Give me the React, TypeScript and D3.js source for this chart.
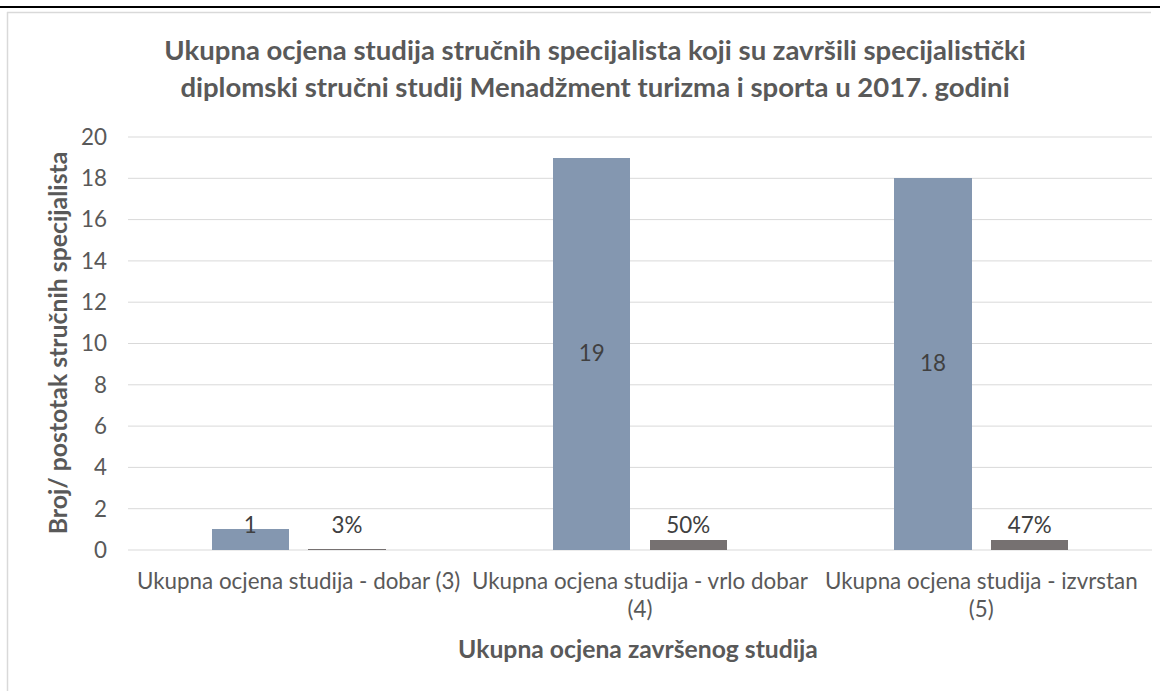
import React, { useMemo } from "react";
import * as d3 from "d3";

const title = [
  "Ukupna ocjena studija stručnih specijalista koji su završili specijalistički",
  "diplomski stručni studij Menadžment turizma i sporta u 2017. godini",
];
const categories = [
  "Ukupna ocjena studija - dobar (3)",
  "Ukupna ocjena studija - vrlo dobar\n(4)",
  "Ukupna ocjena studija - izvrstan\n(5)",
];
const seriesNames = ["Broj", "Postotak"];
const counts = [1, 19, 18];
const shares = [0.03, 0.5, 0.47];
const shareLabels = ["3%", "50%", "47%"];
const yTicks = [0, 2, 4, 6, 8, 10, 12, 14, 16, 18, 20];
const yTitle = "Broj/ postotak stručnih specijalista";
const xTitle = "Ukupna ocjena završenog studija";

const FAMILY = "Lato, 'Open Sans', sans-serif";
const colors = ["#8497B0", "#767171"];

let _ctx: CanvasRenderingContext2D | null = null;
function measure(text: string, weight: number, size: number) {
  if (!_ctx) _ctx = document.createElement("canvas").getContext("2d");
  _ctx!.font = `${weight} ${size}px ${FAMILY}`;
  return _ctx!.measureText(text).width;
}
function fit(text: string, weight: number, target: number) {
  return (100 * target) / measure(text, weight, 100);
}

export default function App() {
  const W = 1164;
  const H = 691;
  const plot = { left: 128, right: 1152, top: 137, bottom: 550 };

  const sizes = useMemo(() => {
    return {
      title: fit(title[0], 700, 862),
      yTitle: fit(yTitle, 700, 383),
      xTitle: fit(xTitle, 700, 360),
      axis: fit(categories[0], 400, 324),
    };
  }, []);

  const y = d3.scaleLinear().domain([0, 20]).range([plot.bottom, plot.top]);
  const x0 = d3.scaleBand<string>().domain(categories).range([plot.left, plot.right]).padding(0);
  const x1 = d3
    .scaleBand<string>()
    .domain(seriesNames)
    .range([0, x0.bandwidth()])
    .paddingInner(0.198)
    .paddingOuter(0.865);

  const seriesData = [
    counts.map((v, i) => ({ cat: categories[i], v, label: String(v) })),
    shares.map((v, i) => ({ cat: categories[i], v, label: shareLabels[i] })),
  ];

  return (
    <svg
      width={W}
      height={H}
      style={{ position: "absolute", left: 0, top: 0, background: "#fff" }}
      fontFamily={FAMILY}
    >
      <rect x={0} y={0} width={W} height={H} fill="#fff" />
      <line x1={0} x2={1160} y1={7} y2={7} stroke="#000" strokeWidth={2} />
      <line x1={7} x2={1151} y1={12.5} y2={12.5} stroke="#d9d9d9" strokeWidth={1.5} />
      <line x1={7.5} x2={7.5} y1={12} y2={H} stroke="#d9d9d9" strokeWidth={1.5} />

      {title.map((t, i) => (
        <text
          key={i}
          x={595}
          y={60 + i * 37}
          textAnchor="middle"
          fontWeight={700}
          fontSize={sizes.title}
          fill="#595959"
        >
          {t}
        </text>
      ))}

      {yTicks.map((t) => (
        <g key={t}>
          <line x1={plot.left} x2={plot.right} y1={y(t)} y2={y(t)} stroke="#d9d9d9" strokeWidth={1} />
          <text x={107} y={y(t)} dy="0.35em" textAnchor="end" fontSize={sizes.axis} fill="#595959">
            {t}
          </text>
        </g>
      ))}

      {seriesData.map((s, si) =>
        s.map((d) => {
          const bx = (x0(d.cat) as number) + (x1(seriesNames[si]) as number);
          const top = y(d.v);
          return (
            <rect
              key={si + d.cat}
              x={bx}
              y={top}
              width={x1.bandwidth()}
              height={y(0) - top}
              fill={colors[si]}
              shapeRendering="crispEdges"
            />
          );
        })
      )}

      {seriesData.map((s, si) =>
        s.map((d) => {
          const cx = (x0(d.cat) as number) + (x1(seriesNames[si]) as number) + x1.bandwidth() / 2;
          const top = y(d.v);
          const base =
            si === 0
              ? Math.min((top + y(0)) / 2 + 7, y(0) - 17)
              : Math.min(top - 7, y(0) - 17);
          return (
            <text key={"l" + si + d.cat} x={cx} y={base} textAnchor="middle" fontSize={sizes.axis} fill="#404040">
              {d.label}
            </text>
          );
        })
      )}

      {categories.map((c) => {
        const cx = (x0(c) as number) + x0.bandwidth() / 2;
        const lines = c.split("\n");
        return (
          <text key={c} textAnchor="middle" fontSize={sizes.axis} fill="#595959">
            {lines.map((l, i) => (
              <tspan key={i} x={cx} y={589 + i * 28}>
                {l}
              </tspan>
            ))}
          </text>
        );
      })}

      <text x={638} y={658} textAnchor="middle" fontWeight={700} fontSize={sizes.xTitle} fill="#595959">
        {xTitle}
      </text>
      <text
        transform={`translate(67,343) rotate(-90)`}
        textAnchor="middle"
        fontWeight={700}
        fontSize={sizes.yTitle}
        fill="#595959"
      >
        {yTitle}
      </text>
    </svg>
  );
}
